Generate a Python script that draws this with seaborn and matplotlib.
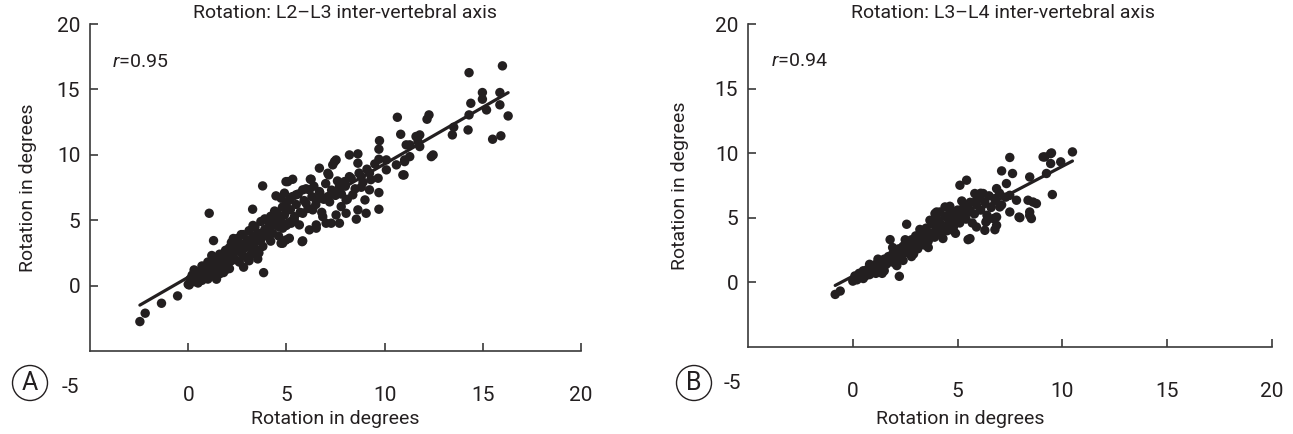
import numpy as np
import pandas as pd
import matplotlib
matplotlib.use("Agg")
import matplotlib.pyplot as plt
import seaborn as sns

# ---------------- data ----------------
titles = ["Rotation: L2\u2013L3 inter-vertebral axis", "Rotation: L3\u2013L4 inter-vertebral axis"]
r_labels = ["0.95", "0.94"]
panel_letters = ["A", "B"]
x_ticks = [0, 5, 10, 15, 20]
y_ticks = [0, 5, 10, 15, 20]
axis_label = "Rotation in degrees"

points_a = [
    (-2.46, -2.75), (-2.19, -2.11), (-1.36, -1.35), (-0.54, -0.79), (0.05, 0.05),
    (1.07, 5.53), (1.29, 3.44), (3.28, 5.84), (3.79, 7.62), (3.84, 0.99), (3.54, 2.04),
    (2.82, 1.41), (1.44, 0.49), (4.47, 6.86), (4.98, 7.95), (4.81, 3.24), (5.15, 3.62),
    (5.8, 3.36), (6.52, 4.39), (7.02, 4.77), (7.7, 4.77), (5.32, 8.13), (6.22, 8.13),
    (6.68, 8.98), (7.45, 9.48), (7.16, 8.46), (5.83, 7.32),
    (10.65, 12.87), (10.82, 11.57), (9.74, 11.08), (9.71, 10.43), (11.1, 10.76), (11.6, 11.4),
    (11.02, 9.61), (10.99, 8.46), (10.6, 9.23), (10.09, 8.85), (9.71, 9.66), (9.67, 8.21),
    (9.71, 7.11), (9.71, 5.84), (8.64, 10.07), (8.21, 9.99), (8.64, 9.36), (9.23, 8.59),
    (8.81, 7.52), (9.23, 7.32), (9.0, 6.55), (8.56, 5.08), (9.06, 5.53), (7.53, 9.61),
    (7.36, 9.23), (7.11, 8.59), (6.26, 8.13), (5.07, 7.95), (8.21, 8.33), (7.96, 7.95),
    (7.70, 7.57), (8.38, 6.94), (8.04, 6.55), (7.79, 6.04), (8.04, 5.53), (7.53, 5.40),
    (7.28, 4.77), (6.85, 5.27), (7.11, 6.8), (6.68, 7.19), (6.17, 7.32), (6.52, 6.55),
    (6.0, 6.3), (6.34, 5.79), (5.83, 5.53), (5.41, 5.27), (5.07, 5.79), (4.73, 6.68),
    (4.9, 7.07), (5.49, 6.94), (5.15, 6.55), (5.24, 4.77), (5.66, 4.64), (4.81, 4.39),
    (4.98, 3.49), (4.73, 3.24), (5.83, 3.42), (6.17, 4.26), (6.52, 4.64), (4.3, 5.27),
    (4.13, 4.64), (8.64, 5.79), (10.09, 9.61), (8.81, 8.33),
    (16.0, 16.8), (14.3, 16.28), (14.98, 14.76), (14.98, 14.25), (15.87, 14.76),
    (15.87, 13.82), (14.39, 13.94), (15.19, 13.43), (16.29, 12.97), (14.3, 13.05),
    (14.25, 11.9), (15.5, 11.19), (15.92, 11.45), (13.45, 11.52), (13.52, 12.11),
    (12.26, 13.05), (12.16, 12.72), (12.47, 9.99), (12.38, 9.86), (11.79, 11.52),
    (11.7, 11.01), (11.79, 10.63), (11.28, 10.76), (11.28, 9.86), (11.02, 9.48), (10.93, 8.46),
    (0.0, 0.1), (0.1, 0.5), (0.2, 0.8), (0.3, 0.3), (0.4, 0.6), (0.5, 0.2), (0.5, 1.0),
    (0.6, 0.7), (0.7, 0.4), (0.8, 1.1), (0.9, 0.8), (1.0, 0.5), (1.0, 1.3),
    (1.1, 1.0), (1.2, 1.6), (1.3, 0.8), (1.3, 2.0), (1.4, 1.3), (1.5, 1.9), (1.5, 0.9),
    (1.6, 2.4), (1.7, 1.5), (1.8, 2.1), (1.8, 1.0), (1.9, 2.7), (2.0, 1.7), (2.0, 2.3),
    (2.1, 2.9), (2.2, 1.9), (2.2, 3.3), (2.3, 2.5), (2.4, 2.0), (2.4, 3.0), (2.5, 3.6),
    (2.6, 2.6), (2.6, 1.8), (2.7, 3.2), (2.8, 2.3), (2.8, 3.9), (2.9, 2.9), (3.0, 3.5), (3.0, 2.1),
    (3.1, 4.2), (3.2, 3.0), (3.2, 2.4), (3.3, 3.8), (3.4, 4.5), (3.4, 3.3), (3.5, 2.7),
    (3.6, 4.0), (3.7, 3.5), (3.7, 4.9), (3.8, 3.0), (3.9, 4.3), (4.0, 3.8), (4.0, 5.0),
    (4.1, 4.4), (4.2, 5.3), (4.3, 4.0), (4.4, 4.8), (4.5, 5.6), (4.6, 4.5), (4.7, 5.1),
    (4.8, 6.0), (4.9, 5.4), (5.0, 4.6), (5.0, 6.3),
    (5.2, 5.8), (5.3, 6.8), (5.4, 5.0), (5.5, 6.2), (5.6, 7.0), (5.7, 5.6), (5.9, 6.5),
    (6.0, 7.4), (6.1, 5.9), (6.3, 6.8), (6.4, 7.6), (6.5, 6.2), (6.7, 7.1), (6.8, 5.6),
    (6.9, 6.6), (7.0, 7.8), (7.2, 6.4), (7.3, 7.3), (7.5, 6.9), (7.6, 8.0), (7.8, 7.0),
    (8.0, 7.6), (8.1, 6.6), (8.3, 8.2), (8.5, 7.4), (8.7, 8.6), (8.9, 7.9), (9.1, 8.9),
    (9.3, 8.1), (9.5, 9.3),
    (0.3, 1.2), (0.7, 1.5), (1.2, 2.3), (1.6, 0.9), (2.1, 1.3), (2.3, 3.6), (2.7, 3.9),
    (3.1, 1.9), (3.3, 4.6), (3.6, 2.5), (3.9, 5.1), (4.2, 3.4), (4.4, 5.7), (4.6, 3.8),
    (1.0, 1.8), (1.9, 1.2), (2.5, 2.9), (3.5, 3.9), (4.5, 5.0), (3.0, 3.0), (2.0, 2.0), (1.4, 1.6),
]

points_b = [
    (-0.84, -0.93), (-0.6, -0.67), (2.22, 0.47), (2.57, 4.5), (1.78, 3.31), (5.11, 7.52),
    (5.43, 7.91), (5.5, 3.31), (4.63, 5.89), (4.16, 5.45), (3.68, 4.81),
    (7.49, 9.67), (9.08, 9.71), (9.44, 9.97), (9.44, 9.2), (9.92, 9.33), (10.48, 10.1),
    (9.52, 6.8), (9.24, 8.43), (8.44, 8.16), (7.1, 8.63), (7.62, 8.43), (5.82, 6.88),
    (6.86, 7.26), (7.33, 7.65), (7.49, 6.74), (7.93, 5.06), (8.44, 5.45), (8.52, 4.94),
    (8.76, 6.1), (8.36, 6.36), (7.81, 6.36), (6.86, 5.06), (6.78, 4.08), (6.35, 4.67),
    (6.3, 4.03), (5.9, 4.29), (5.59, 3.39), (4.0, 5.45),
    (8.6, 6.22), (8.44, 5.19), (7.97, 5.01), (7.49, 5.45), (7.01, 5.84), (6.78, 6.49),
    (6.22, 6.88), (5.9, 6.36), (5.59, 5.58), (6.7, 4.94), (6.86, 4.42), (4.79, 4.03),
    (4.4, 5.84), (3.92, 5.33), (4.16, 4.55), (4.95, 5.06), (5.27, 5.58), (9.16, 9.71), (9.48, 10.02),
    (0.0, 0.1), (0.1, 0.5), (0.2, 0.2), (0.3, 0.7), (0.4, 0.4), (0.5, 0.9), (0.6, 0.5),
    (0.7, 1.0), (0.8, 0.6), (0.9, 1.2), (1.0, 0.9), (1.1, 1.4), (1.1, 0.7), (1.2, 1.1),
    (1.3, 1.6), (1.4, 1.2), (1.5, 1.8), (1.5, 0.9), (1.6, 1.4), (1.7, 2.0), (1.8, 1.6),
    (1.9, 2.2), (2.0, 1.5), (2.0, 2.5), (2.1, 1.9), (2.2, 2.6), (2.3, 2.1), (2.4, 1.7),
    (2.4, 2.8), (2.5, 2.3), (2.6, 3.1), (2.7, 2.5), (2.8, 2.0), (2.8, 3.3), (2.9, 2.8),
    (3.0, 3.6), (3.1, 2.6), (3.2, 3.2), (3.3, 3.9), (3.4, 2.9), (3.4, 3.5), (3.5, 4.2),
    (3.6, 3.2), (3.7, 3.8), (3.8, 4.5), (3.9, 3.5), (4.0, 4.1), (4.1, 4.8), (4.2, 3.7),
    (4.3, 4.4), (4.4, 5.1), (4.5, 4.0), (4.6, 4.7), (4.7, 5.4), (4.8, 4.3), (4.9, 5.0),
    (5.0, 5.6), (5.1, 4.6), (5.2, 5.2), (5.3, 6.0), (5.4, 4.9), (5.5, 5.5), (5.6, 6.2),
    (5.8, 5.3), (5.9, 6.0), (6.0, 6.5), (6.1, 5.6), (6.3, 6.2), (6.4, 5.2), (6.5, 6.7),
    (6.6, 5.8), (6.8, 6.3), (7.0, 6.9), (7.1, 6.0), (7.3, 6.6),
    (0.5, 0.3), (0.8, 1.4), (1.2, 1.8), (1.4, 0.7), (1.9, 2.7), (2.1, 1.3), (2.5, 3.3),
    (2.9, 2.2), (3.2, 4.1), (3.6, 2.7), (3.9, 4.7), (4.3, 3.4), (4.6, 5.3), (4.9, 3.8),
    (5.2, 6.3), (5.7, 4.6), (6.1, 6.9), (6.4, 4.8), (3.0, 3.0), (2.2, 2.2), (1.6, 1.6),
    (4.0, 4.0), (5.0, 5.0),
]

# ---------------- style ----------------
sns.set_style("ticks")
FONT = ["Roboto", "DejaVu Sans"]
plt.rcParams["font.family"] = FONT
plt.rcParams["mathtext.fontset"] = "custom"
plt.rcParams["mathtext.rm"] = "Roboto"
plt.rcParams["mathtext.it"] = "Roboto:italic"

INK = "#231f20"
SPINE = "#3a3a3a"
FS_TICK = 15
FS_TXT = 14

fig = plt.figure(figsize=(12.93, 4.34), dpi=100)
W, H = 1293, 434
layout = [
    # left px, right px, top px, bottom px
    (90, 581, 24, 351),
    (748, 1272, 24, 347),
]
title_x = [0.519, 0.487]
xlabel_xy = [(0.5, -0.18), (0.405, -0.195)]
minus5_x = [-6.0, -5.76]
letter_pos = [(30, 383), (694, 383)]
ylabel_x = [-0.108, -0.113]

for i, pts in enumerate([points_a, points_b]):
    l, r, t, b = layout[i]
    ax = fig.add_axes([l / W, 1 - b / H, (r - l) / W, (b - t) / H])
    df = pd.DataFrame(pts, columns=["x", "y"])
    sns.regplot(data=df, x="x", y="y", ax=ax, ci=None, truncate=True,
                scatter_kws=dict(s=46, color=INK, edgecolor="none", alpha=1),
                line_kws=dict(color=INK, lw=2.3))
    ax.set_xlim(-5, 20)
    ax.set_ylim(-5, 20)
    sns.despine(ax=ax)
    for s in ["left", "bottom"]:
        ax.spines[s].set_color(SPINE)
        ax.spines[s].set_linewidth(1.2)
    ax.set_xticks(x_ticks)
    ax.set_xticklabels([str(v) for v in x_ticks])
    ax.set_yticks(y_ticks)
    ax.set_yticklabels([str(v) for v in y_ticks])
    ax.tick_params(axis="x", direction="in", length=6, width=1.2, color=SPINE,
                   pad=25, labelsize=FS_TICK, labelcolor=INK)
    ax.tick_params(axis="y", direction="in", length=6, width=1.2, color=SPINE,
                   pad=7, labelsize=FS_TICK, labelcolor=INK)
    ax.set_xlabel(axis_label, fontsize=FS_TXT, color=INK)
    ax.set_ylabel(axis_label, fontsize=FS_TXT, color=INK)
    ax.xaxis.set_label_coords(*xlabel_xy[i])
    ax.yaxis.set_label_coords(ylabel_x[i], 0.5)
    ax.set_title(titles[i], fontsize=FS_TXT, color=INK, pad=4, x=title_x[i])
    ax.text(-3.9, 17.1, "$r$=" + r_labels[i], fontsize=FS_TXT, color=INK,
            ha="left", va="center")
    ax.text(minus5_x[i], -0.112, "-5", transform=ax.get_xaxis_transform(),
            fontsize=FS_TICK, color=INK, ha="center", va="center")
    lx, ly = letter_pos[i]
    fig.text(lx / W, 1 - ly / H, panel_letters[i], fontsize=18, color=INK,
             ha="center", va="center",
             bbox=dict(boxstyle="circle,pad=0.22", fc="white", ec=INK, lw=1.0))

fig.savefig("out.png", dpi=100)
